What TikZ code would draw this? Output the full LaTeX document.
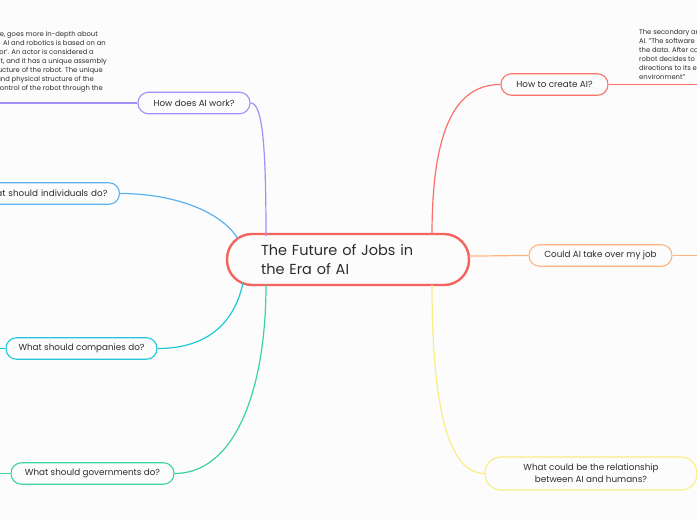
\documentclass[tikz,border=0pt]{standalone}
\usepackage{fontspec}
\setmainfont{Poppins}
\definecolor{bg}{RGB}{252,252,252}
\definecolor{txt}{RGB}{45,45,45}
\definecolor{cred}{RGB}{244,100,94}
\definecolor{cred2}{RGB}{250,112,106}
\definecolor{corange}{RGB}{255,180,128}
\definecolor{cyellow}{RGB}{250,236,135}
\definecolor{cgreen}{RGB}{58,212,160}
\definecolor{ccyan}{RGB}{30,200,215}
\definecolor{cblue}{RGB}{90,178,240}
\definecolor{cpurple}{RGB}{158,145,250}
\begin{document}
\begin{tikzpicture}[x=1pt,y=-1pt,
  topic/.style={draw, line width=1.1pt, rounded corners=10.5pt, minimum height=21.5pt, fill=bg, text=txt, font=\fontsize{8.8}{12}\selectfont, inner sep=0pt},
  link/.style={line width=1.2pt},
  note/.style={text=txt, font=\fontsize{6.8}{9}\selectfont, inner sep=0pt}]
\fill[bg] (0,0) rectangle (697,520);
\useasboundingbox (0,0) rectangle (697,520);

% central
\node[draw=cred, line width=2.4pt, rounded corners=25pt, minimum height=51pt, minimum width=242pt, text width=174pt, inner xsep=34pt, inner ysep=0pt, align=left, font=\fontsize{14.5}{19}\selectfont, text=txt, fill=bg] (c) at (348,259.5) {The Future of Jobs in\\the Era of AI};

% topics
\node[topic, draw=cpurple, minimum width=112pt] (hw) at (194,103) {How does AI work?};
\node[topic, draw=cred2, minimum width=107pt] (hc) at (554.5,84.5) {How to create AI?};
\node[topic, draw=corange, minimum width=143pt] (ct) at (600.5,255.5) {Could AI take over my job};
\node[topic, draw=cyellow, minimum width=212pt, minimum height=33pt, rounded corners=16pt, align=center] (rel) at (591,473.5) {What could be the relationship\\between AI and humans?};
\node[topic, draw=cblue, anchor=east, text width=127pt, inner xsep=12pt, align=right] (ind) at (120,193.5) {at should individuals do?};
\node[topic, draw=ccyan, minimum width=151pt] (co) at (81.5,348.5) {What should companies do?};
\node[topic, draw=cgreen, minimum width=163pt] (go) at (92.5,473.5) {What should governments do?};

% attachment points on the central node
\coordinate (cpur) at (266,236);
\coordinate (cblu) at (238,239);
\coordinate (ccya) at (243,283);
\coordinate (cgre) at (266,285);
\coordinate (cre) at (432,235);
\coordinate (cora) at (469,256);
\coordinate (cyel) at (432,285);
% free ends
\coordinate (ePur) at (-2,103);
\coordinate (eRed) at (699,84.5);
\coordinate (eOra) at (699,255.5);
\coordinate (eCya) at (-2,348.5);
\coordinate (eGre) at (-2,473.5);

% connectors
\draw[link, cpurple] (hw.east) .. controls (262,103) and (266,140) .. (cpur);
\draw[link, cblue] (ind.east) .. controls (175,193.5) and (222,212) .. (cblu);
\draw[link, ccyan] (co.east) .. controls (215,348.5) and (236,315) .. (ccya);
\draw[link, cgreen] (go.east) .. controls (235,473.5) and (266,390) .. (cgre);
\draw[link, cred2] (cre) .. controls (432,130) and (455,84.5) .. (hc.west);
\draw[link, corange] (cora) .. controls (495,256) and (505,255.5) .. (ct.west);
\draw[link, cyellow] (cyel) .. controls (432,430) and (455,473.5) .. (rel.west);

\draw[link, cpurple] (hw.west) -- (ePur);
\draw[link, cred2] (hc.east) -- (eRed);
\draw[link, corange] (ct.east) -- (eOra);
\draw[link, ccyan] (co.west) -- (eCya);
\draw[link, cgreen] (go.west) -- (eGre);

% notes top-left
\node[note, anchor=base east] (n1) at (98,36.3) {le, goes more in-depth about};
\node[note, anchor=base east] (n2) at (106,45.3) {AI and robotics is based on an};
\node[note, anchor=base east] (n3) at (94,54.3) {or'. An actor is considered a};
\node[note, anchor=base east] (n4) at (107,63.3) {t, and it has a unique assembly};
\node[note, anchor=base east] (n5) at (103,72.3) {ucture of the robot. The unique};
\node[note, anchor=base east] (n6) at (94,81.3) {and physical structure of the};
\node[note, anchor=base east] (n7) at (103,90.3) {ontrol of the robot through the};

% notes top-right
\node[note, anchor=base west] (m1) at (639,34.3) {The secondary ar};
\node[note, anchor=base west] (m2) at (639,43.3) {AI. "The software};
\node[note, anchor=base west] (m3) at (639,52.3) {the data. After co};
\node[note, anchor=base west] (m4) at (639,61.3) {robot decides to};
\node[note, anchor=base west] (m5) at (639,70.3) {directions to its e};
\node[note, anchor=base west] (m6) at (639,79.3) {environment"};
\end{tikzpicture}
\end{document}
